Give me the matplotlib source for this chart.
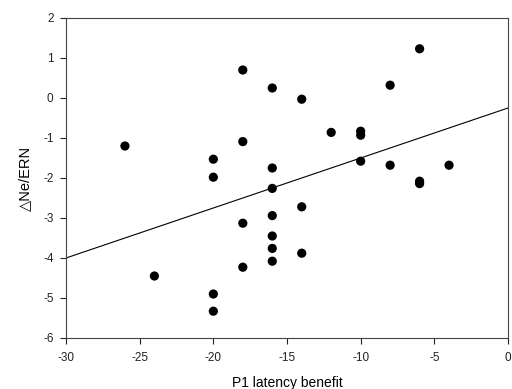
import matplotlib
matplotlib.use("Agg")
import matplotlib.pyplot as plt
import numpy as np

plt.rcParams['font.family'] = ['Liberation Sans', 'DejaVu Sans']
plt.rcParams['axes.unicode_minus'] = False

# P1 latency benefit vs change in Ne/ERN
latency = [-26, -24, -20, -20, -20, -20, -18, -18, -18, -18,
           -16, -16, -16, -16, -16, -16, -16, -14, -14, -14,
           -12, -10, -10, -10, -8, -8, -6, -6, -6, -4]
ne_ern = [-1.2, -4.45, -1.53, -1.98, -4.9, -5.33, 0.7, -1.09, -3.13, -4.23,
          0.25, -1.75, -2.26, -2.94, -3.45, -3.76, -4.08, -0.03, -2.72, -3.88,
          -0.86, -0.83, -0.93, -1.58, 0.32, -1.68, 1.23, -2.08, -2.14, -1.68]

# regression line end points (as drawn)
fit_x = [-30, 0]
fit_y = [-4.0, -0.25]

x_ticks = [-30, -25, -20, -15, -10, -5, 0]
y_ticks = [-6, -5, -4, -3, -2, -1, 0, 1, 2]

fig = plt.figure(figsize=(5.12, 3.89), dpi=100)
ax = fig.add_axes([66 / 512, 1 - 338 / 389, 442 / 512, 320 / 389])

ax.scatter(latency, ne_ern, s=44, c='black', zorder=3, edgecolors='none')
ax.plot(fit_x, fit_y, color='black', linewidth=0.8)

ax.set_xlim(-30, 0)
ax.set_ylim(-6, 2)
ax.set_xticks(x_ticks)
ax.set_yticks(y_ticks)
ax.tick_params(direction='out', length=4, width=0.8, labelsize=8.5,
               colors='#222222')
ax.tick_params(axis='x', pad=6)
ax.tick_params(axis='y', pad=5)
for sp in ax.spines.values():
    sp.set_linewidth(0.8)
    sp.set_color('#444444')

ax.set_xlabel('P1 latency benefit', fontsize=10, labelpad=9)
ax.set_ylabel('\u25b3Ne/ERN', fontsize=10.5, labelpad=8)

fig.savefig('out.png', dpi=100)
